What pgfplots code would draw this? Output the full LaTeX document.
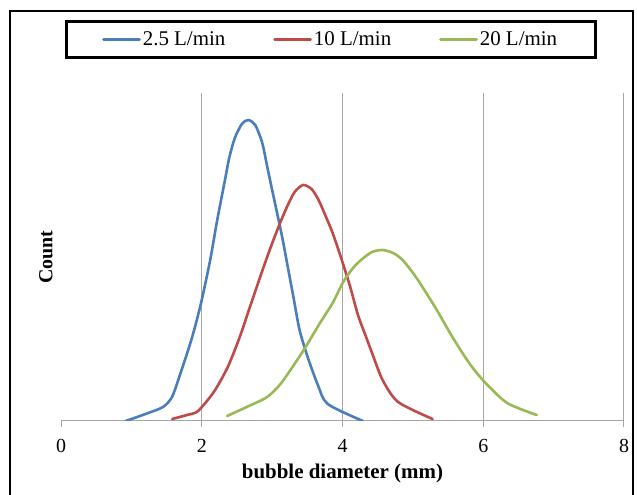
\documentclass[border=0pt]{standalone}
\usepackage{pgfplots}
\pgfplotsset{compat=1.18}
\usepackage{fontspec}
\setmainfont{Liberation Serif}
\definecolor{cblue}{HTML}{4A7EBB}
\definecolor{cred}{HTML}{BE4B48}
\definecolor{cgreen}{HTML}{98B954}
\definecolor{cgrid}{HTML}{A6A6A6}
\begin{document}
\begin{tikzpicture}
\begin{axis}[
  at={(61bp,74bp)}, anchor=south west,
  scale only axis, width=563bp, height=328bp,
  xmin=0, xmax=8, ymin=0, ymax=328,
  axis x line*=bottom, axis y line*=left,
  y axis line style={draw=none},
  x axis line style={draw=cgrid, line width=1bp},
  xtick={0,2,4,6,8}, ytick=\empty,
  tick align=outside, major tick length=6bp,
  xtick style={draw=cgrid, line width=1bp},
  extra x ticks={2,4,6,8}, extra x tick labels={},
  extra x tick style={grid=major, major grid style={draw=cgrid, line width=1bp}, major tick length=0bp},
  /pgf/number format/assume math mode=true,
  ticklabel style={font=\fontsize{20}{22}\selectfont},
  xticklabel style={yshift=-9bp},
  xlabel={\textbf{bubble diameter (mm)}},
  xlabel style={font=\fontsize{21}{24}\selectfont, yshift=2bp},
  ylabel={\textbf{Count}},
  ylabel style={font=\fontsize{20}{22}\selectfont, at={(axis description cs:-0.027,0.5)}, anchor=center, rotate=0},
  legend columns=3,
  legend style={at={(axis description cs:0.479,1.163)}, anchor=center, draw=black, line width=2.8bp,
    inner xsep=36bp, inner ysep=8.5bp, font=\fontsize{21}{24}\selectfont,
    /tikz/every even column/.append style={column sep=46bp},
    nodes={inner xsep=2bp}},
  legend image code/.code={\draw[#1] (0bp,0bp) -- (36bp,0bp);},
  every axis plot/.append style={line width=2.6bp, line join=round, line cap=round, smooth, tension=0.45},
]
\addplot[cblue] coordinates {
(0.92,0) (1.20,7) (1.449,14) (1.577,24) (1.69,46) (1.86,83) (1.99,118) (2.12,161)
(2.22,201) (2.33,241) (2.39,263) (2.47,283) (2.57,297) (2.66,301) (2.76,296) (2.86,278)
(2.94,251) (3.04,218) (3.14,185) (3.22,155) (3.30,125) (3.39,91) (3.51,63)
(3.65,36) (3.79,17) (4.29,0)
};
\addlegendentry{2.5 L/min}
\addplot[cred] coordinates {
(1.58,2) (1.79,6) (1.93,9) (2.05,18) (2.19,31) (2.37,54) (2.54,84) (2.68,113)
(2.82,142) (2.96,170) (3.09,194) (3.21,214) (3.32,229) (3.44,236) (3.56,232)
(3.66,221) (3.76,205) (3.86,188) (3.99,161) (4.11,134) (4.22,106) (4.33,85) (4.42,68) (4.57,41)
(4.79,19) (5.28,2)
};
\addlegendentry{10 L/min}
\addplot[cgreen] coordinates {
(2.36,5) (2.70,16) (2.93,24) (3.13,38) (3.44,70) (3.68,98) (3.86,118) (4.01,139)
(4.15,153) (4.28,162) (4.42,169) (4.57,171) (4.72,168) (4.84,162) (4.96,152)
(5.10,138) (5.34,111) (5.57,83) (5.81,57) (6.02,39) (6.34,18) (6.76,6)
};
\addlegendentry{20 L/min}
\end{axis}
\draw[black, line width=1.2bp] (10bp,-5bp) -- (10bp,484bp) -- (633bp,484bp) -- (633bp,-5bp);
\pgfresetboundingbox
\useasboundingbox (0bp,0bp) rectangle (637bp,495bp);
\end{tikzpicture}
\end{document}
